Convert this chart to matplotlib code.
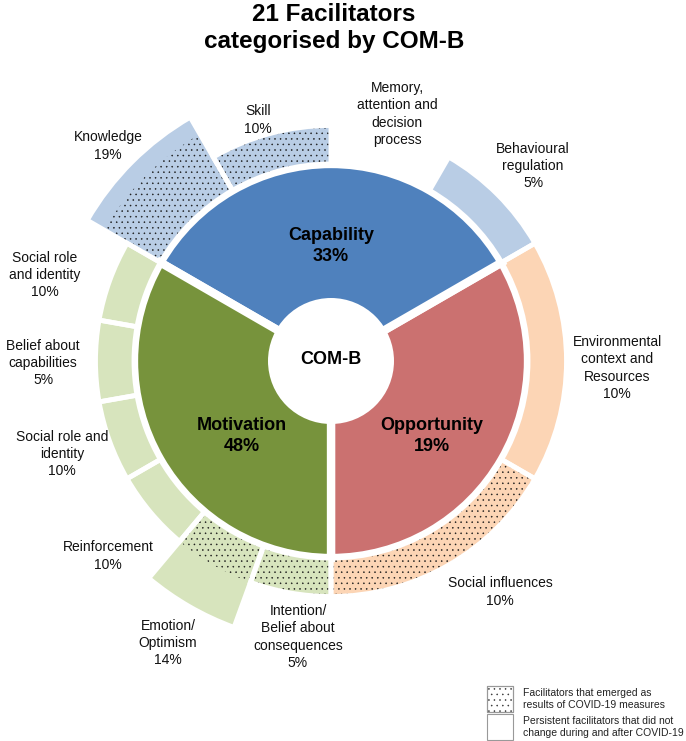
import matplotlib.pyplot as plt
from matplotlib.patches import Wedge, Circle, Rectangle

plt.rcParams['font.family'] = ['Liberation Sans', 'DejaVu Sans']
plt.rcParams['hatch.linewidth'] = 0.35

W, H = 686, 741

# inner ring, counter-clockwise starting at the bottom
categories = ["Opportunity", "Capability", "Motivation"]
cat_pct = [19, 33, 48]
cat_colors = ["#CB7170", "#4F81BD", "#77933C"]
light_colors = ["#FCD5B5", "#B9CDE5", "#D7E4BD"]

# outer ring per category, same order
items = [
    ["Social influences", "Environmental\ncontext and\nResources"],
    ["Behavioural\nregulation", "Memory,\nattention and\ndecision\nprocess", "Skill", "Knowledge"],
    ["Social role\nand identity", "Belief about\ncapabilities", "Social role and\nidentity",
     "Reinforcement", "Emotion/\nOptimism", "Intention/\nBelief about\nconsequences"],
]
item_pct = [
    [10, 10],
    [5, None, 10, 19],
    [10, 5, 10, 10, 14, 5],
]
emerged = [
    [True, False],
    [False, False, True, True],
    [False, False, False, False, True, True],
]

# label positions in pixels (x, y from top)
label_pos = [
    [(500, 592), (617, 368)],
    [(533, 166), (397, 114), (258, 120), (108, 146)],
    [(45, 275), (43, 363), (62, 454), (108, 556), (168, 643), (298, 637)],
]
cat_label_pos = [(432, 436), (331, 246), (242, 436)]

# radial layout (pixels)
cx, cy = 331, H - 361
r_hole = 63
r_inner = 197
r_out_in, r_out = 197, 235.5
# segments that stick out of the ring: (dotted up to, outer edge)
extended = {"Knowledge": (262, 281.5), "Emotion/\nOptimism": (235.5, 283.5)}


def px(x, y):
    return x, H - y


fig = plt.figure(figsize=(W / 100, H / 100), dpi=100)
ax = fig.add_axes([0, 0, 1, 1])
ax.set_xlim(0, W)
ax.set_ylim(0, H)
ax.axis('off')

start = -90.0
span = 360.0 / len(categories)
for c, cat in enumerate(categories):
    a0 = start + c * span
    ax.add_patch(Wedge((cx, cy), r_inner, a0, a0 + span, facecolor=cat_colors[c],
                       edgecolor='white', lw=6, zorder=1))
    x, y = px(*cat_label_pos[c])
    ax.text(x, y, f"{cat}\n{cat_pct[c]}%", ha='center', va='center', fontsize=13,
            fontweight='bold', linespacing=1.25, zorder=5)

    n = len(items[c])
    step = span / n
    for i, name in enumerate(items[c]):
        t1, t2 = a0 + i * step, a0 + (i + 1) * step
        pct = item_pct[c][i]
        x, y = px(*label_pos[c][i])
        txt = name if pct is None else f"{name}\n{pct}%"
        ax.text(x, y, txt, ha='center', va='center', fontsize=10, linespacing=1.3,
                color='#111111', zorder=5)
        if pct is None:
            continue
        r_top = r_out
        r_dot = r_out
        if name in extended:
            r_dot, r_top = extended[name]
        ax.add_patch(Wedge((cx, cy), r_top, t1, t2, width=r_top - r_out_in,
                           facecolor=light_colors[c], lw=0, zorder=1))
        if emerged[c][i]:
            ax.add_patch(Wedge((cx, cy), r_dot, t1, t2, width=r_dot - r_out_in,
                               facecolor='none', edgecolor='#1a1a1a', lw=0,
                               hatch='...', zorder=2))
        ax.add_patch(Wedge((cx, cy), r_top, t1, t2, width=r_top - r_out_in,
                           facecolor='none', edgecolor='white', lw=3.5, zorder=3))

ax.add_patch(Circle((cx, cy), r_hole, facecolor='white', edgecolor='none', zorder=4))
x, y = px(cx, 360)
ax.text(x, y, "COM-B", ha='center', va='center', fontsize=13, fontweight='bold', zorder=5)

x, y = px(334, 28)
ax.text(x, y, "21 Facilitators\ncategorised by COM-B", ha='center', va='center',
        fontsize=17.5, fontweight='bold', linespacing=1.26)

# legend
legend_text = ["Facilitators that emerged as\nresults of COVID-19 measures",
               "Persistent facilitators that did not\nchange during and after COVID-19"]
legend_top = [686, 714]
for k, t in enumerate(legend_text):
    x, y = px(487, legend_top[k] + 26)
    ax.add_patch(Rectangle((x, y), 26, 26, facecolor='white', edgecolor='#999999', lw=0.8))
    if k == 0:
        ax.add_patch(Rectangle((x, y), 26, 26, facecolor='none', edgecolor='#333333', lw=0,
                               hatch='...'))
        ax.add_patch(Rectangle((x, y), 26, 26, facecolor='none', edgecolor='#999999', lw=0.8))
    tx, ty = px(523, legend_top[k] + 13)
    ax.text(tx, ty, t, ha='left', va='center', fontsize=7.5, color='#222222', linespacing=1.2)

fig.savefig('out.png', dpi=100)
